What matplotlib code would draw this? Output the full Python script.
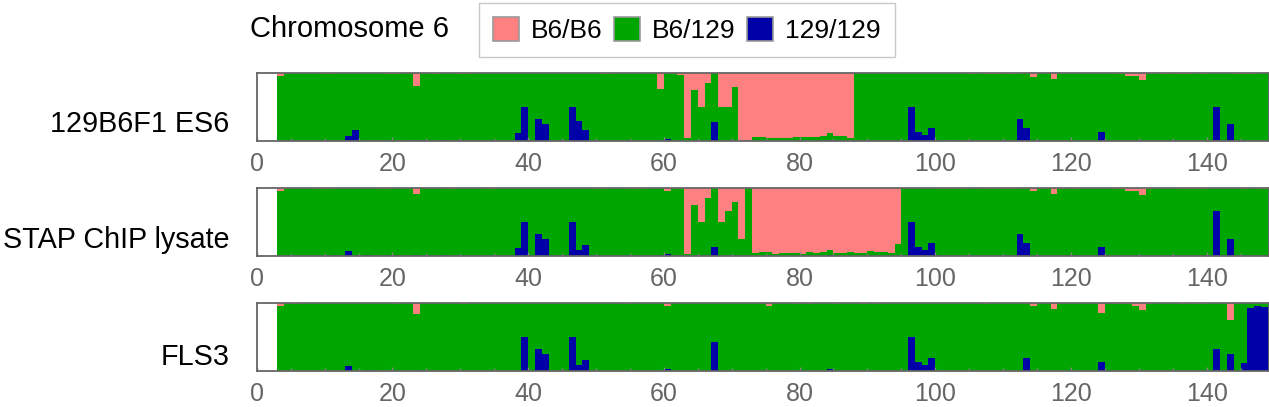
import matplotlib
matplotlib.use("Agg")
import matplotlib.pyplot as plt
from matplotlib.patches import Patch

plt.rcParams['font.family'] = ['Liberation Sans', 'DejaVu Sans']

# 1 Mb bins, bin start positions 3..149 (Mb)
bin_start = list(range(3, 150))

samples = ["129B6F1 ES6", "STAP ChIP lysate", "FLS3"]
genotypes = ["B6/B6", "B6/129", "129/129"]
colors = ["#FF8080", "#00A600", "#0000A8"]

# fraction B6/B6 (top of each bar), rows: 3-9, 10-19, ..., 140-149
es6_b6b6 = [
    0.04, 0, 0, 0, 0, 0, 0,
    0.015, 0, 0, 0, 0, 0, 0, 0, 0, 0.015,
    0.015, 0, 0, 0.19, 0, 0, 0.015, 0, 0, 0,
    0.015, 0, 0, 0, 0, 0, 0, 0, 0, 0,
    0, 0, 0, 0, 0, 0, 0, 0, 0, 0,
    0, 0.015, 0, 0, 0, 0, 0, 0, 0, 0.23,
    0, 0, 0.02, 0.95, 0.25, 0.50, 0.14, 0, 0.50, 0.50,
    0.20, 1.0, 1.0, 0.935, 0.935, 0.95, 0.95, 0.95, 0.95, 0.935,
    0.935, 0.935, 0.935, 0.92, 0.88, 0.92, 0.92, 0.95, 0, 0,
    0, 0, 0, 0, 0, 0, 0, 0, 0, 0,
    0, 0, 0, 0, 0, 0.015, 0, 0.015, 0.015, 0.015,
    0, 0.015, 0, 0, 0.05, 0, 0, 0.08, 0, 0,
    0, 0, 0, 0, 0, 0, 0, 0.015, 0.04, 0.04,
    0.10, 0.015, 0, 0.015, 0, 0.015, 0.015, 0.015, 0, 0.015,
    0, 0, 0, 0, 0.015, 0.015, 0.015, 0, 0, 0,
]
# fraction 129/129 (bottom of each bar)
es6_129 = [
    0, 0, 0, 0, 0, 0, 0,
    0, 0, 0, 0.07, 0.16, 0, 0, 0, 0, 0,
    0, 0, 0, 0.015, 0, 0, 0, 0.015, 0, 0,
    0, 0, 0, 0, 0, 0, 0, 0, 0.12, 0.50,
    0, 0.325, 0.25, 0, 0, 0, 0.50, 0.30, 0.16, 0,
    0, 0, 0, 0, 0, 0, 0, 0, 0, 0,
    0.03, 0, 0, 0, 0, 0, 0, 0.28, 0, 0,
    0, 0, 0, 0, 0, 0, 0, 0, 0, 0,
    0, 0, 0, 0, 0.01, 0, 0, 0, 0, 0,
    0, 0, 0, 0, 0, 0, 0.50, 0.13, 0.09, 0.19,
    0, 0, 0.015, 0, 0, 0, 0, 0, 0, 0,
    0, 0, 0.325, 0.19, 0, 0, 0, 0, 0, 0,
    0, 0, 0, 0, 0.13, 0, 0, 0, 0, 0,
    0, 0, 0, 0, 0, 0, 0, 0, 0, 0,
    0, 0.50, 0, 0.25, 0, 0, 0, 0, 0, 0,
]

stap_b6b6 = [
    0.04, 0, 0, 0, 0, 0, 0.015,
    0.015, 0, 0, 0, 0, 0, 0, 0, 0.015, 0.015,
    0, 0, 0, 0.08, 0, 0, 0, 0, 0.015, 0,
    0, 0, 0, 0, 0.015, 0, 0, 0, 0, 0,
    0, 0, 0, 0, 0, 0, 0, 0, 0, 0,
    0.015, 0, 0, 0, 0, 0.015, 0.015, 0, 0, 0,
    0.04, 0, 0.015, 0.965, 0.25, 0.50, 0.14, 0, 0.50, 0.335,
    0.20, 0.75, 0, 0.95, 0.935, 0.935, 0.965, 0.95, 0.95, 0.95,
    0.965, 0.935, 0.95, 0.935, 0.91, 0.95, 0.95, 0.935, 0.95, 0.95,
    0.92, 0.935, 0.935, 0.95, 0.82, 0, 0, 0, 0, 0,
    0, 0.015, 0, 0.015, 0, 0, 0, 0.015, 0, 0.015,
    0.015, 0.015, 0, 0, 0.04, 0, 0, 0.08, 0.015, 0,
    0.015, 0, 0, 0, 0, 0, 0.015, 0.015, 0.04, 0.04,
    0.10, 0.015, 0, 0, 0, 0, 0.015, 0.015, 0.015, 0.015,
    0, 0, 0, 0, 0, 0.015, 0, 0, 0.015, 0,
]
stap_129 = [
    0, 0, 0, 0, 0, 0, 0,
    0, 0.015, 0, 0.07, 0, 0, 0.015, 0, 0, 0,
    0, 0, 0, 0.015, 0, 0, 0, 0.015, 0, 0,
    0, 0, 0, 0, 0, 0, 0, 0, 0.12, 0.50,
    0, 0.325, 0.25, 0, 0, 0, 0.50, 0.09, 0.16, 0,
    0, 0, 0, 0, 0, 0, 0, 0, 0, 0,
    0.03, 0, 0, 0, 0, 0, 0, 0.13, 0, 0,
    0, 0, 0, 0, 0, 0, 0, 0, 0, 0,
    0, 0, 0, 0, 0.01, 0, 0, 0, 0, 0,
    0, 0, 0, 0, 0, 0, 0.50, 0.13, 0.09, 0.19,
    0, 0, 0, 0, 0, 0, 0, 0, 0, 0,
    0, 0, 0.325, 0.19, 0, 0, 0, 0, 0, 0,
    0, 0, 0, 0, 0.13, 0, 0, 0, 0, 0,
    0, 0, 0, 0, 0, 0, 0, 0, 0, 0,
    0, 0.665, 0, 0.25, 0, 0, 0, 0, 0, 0,
]

fls3_b6b6 = [
    0.04, 0, 0.015, 0, 0, 0, 0,
    0, 0, 0, 0, 0, 0, 0, 0, 0, 0,
    0.015, 0, 0, 0.16, 0, 0, 0, 0, 0, 0,
    0.015, 0, 0, 0, 0, 0, 0, 0, 0, 0,
    0, 0, 0, 0, 0, 0, 0, 0, 0, 0,
    0, 0, 0, 0, 0.015, 0, 0, 0, 0, 0,
    0.04, 0, 0, 0, 0, 0, 0, 0, 0, 0,
    0, 0, 0, 0, 0, 0.04, 0, 0, 0, 0.015,
    0, 0.015, 0, 0, 0, 0.015, 0, 0, 0, 0.015,
    0, 0.015, 0, 0, 0, 0, 0, 0, 0, 0,
    0, 0, 0, 0, 0, 0, 0, 0.015, 0, 0,
    0, 0, 0, 0, 0.04, 0, 0, 0.08, 0, 0,
    0, 0, 0, 0, 0.14, 0, 0.015, 0.015, 0.015, 0.04,
    0.10, 0.015, 0, 0, 0, 0, 0.015, 0, 0.015, 0.015,
    0, 0, 0, 0.25, 0, 0, 0, 0, 0, 0,
]
fls3_129 = [
    0, 0, 0, 0, 0, 0, 0,
    0, 0, 0, 0.07, 0, 0, 0.015, 0, 0, 0,
    0, 0, 0, 0.015, 0, 0, 0, 0, 0, 0,
    0, 0, 0, 0, 0, 0, 0, 0, 0, 0.50,
    0, 0.325, 0.25, 0, 0, 0, 0.50, 0.09, 0.16, 0,
    0, 0, 0, 0, 0, 0, 0, 0, 0, 0,
    0.03, 0, 0, 0, 0, 0, 0, 0.43, 0, 0,
    0, 0, 0, 0, 0, 0, 0, 0, 0, 0,
    0, 0, 0, 0, 0.03, 0, 0, 0, 0, 0,
    0, 0, 0, 0, 0, 0, 0.50, 0.13, 0.09, 0.19,
    0, 0, 0, 0, 0, 0, 0, 0, 0, 0,
    0, 0, 0, 0.19, 0, 0, 0, 0, 0, 0,
    0, 0, 0, 0, 0.13, 0, 0, 0, 0, 0,
    0, 0, 0, 0, 0, 0, 0, 0, 0, 0,
    0, 0.325, 0, 0.25, 0, 0.12, 0.93, 0.96, 0.945, 0.945,
]

panels = [(es6_b6b6, es6_129), (stap_b6b6, stap_129), (fls3_b6b6, fls3_129)]

W, H = 1269, 407
fig = plt.figure(figsize=(W / 100, H / 100), dpi=100)

ax_left = 256.8 / W
ax_width = 1 - ax_left
ax_height = 67.7 / H
tops_px = [73.3, 188.3, 303.3]
label_y = [0.25, 0.235, 0.21]

for k, (b6b6, b129) in enumerate(panels):
    bottom = 1 - (tops_px[k] + 67.7) / H
    ax = fig.add_axes([ax_left, bottom, ax_width, ax_height])
    # B6/129 is what is left of each bin
    het = [1 - p - b for p, b in zip(b6b6, b129)]
    ax.bar(bin_start, b129, width=1, align='edge', color=colors[2], linewidth=0)
    ax.bar(bin_start, het, width=1, align='edge', bottom=b129, color=colors[1], linewidth=0)
    ax.bar(bin_start, b6b6, width=1, align='edge',
           bottom=[b + h for b, h in zip(b129, het)], color=colors[0], linewidth=0)

    ax.set_xlim(0, 149.2)
    ax.set_ylim(0, 1)
    ax.set_yticks([])
    ax.set_xticks(range(0, 141, 20))
    ax.set_xticks(range(5, 150, 5), minor=True)
    ax.tick_params(axis='x', which='major', direction='in', length=3.2, width=1,
                   color='#888888', labelsize=18, labelcolor='#666666', pad=8)
    ax.tick_params(axis='x', which='minor', direction='in', length=2, width=1,
                   color='#888888')
    for sp in ax.spines.values():
        sp.set_color('#666666')
        sp.set_linewidth(1.3)
    ax.text(-0.027, label_y[k], samples[k], transform=ax.transAxes, ha='right',
            va='center', fontsize=20.7, color='black')

fig.text(250 / W, 1 - 29 / H, "Chromosome 6", ha='left', va='center', fontsize=21)

handles = [Patch(facecolor=c, edgecolor='#999999', linewidth=1.2, label=g)
           for c, g in zip(colors, genotypes)]
leg = fig.legend(handles=handles, loc='center', bbox_to_anchor=(687 / W, 1 - 30 / H),
                 ncol=3, fontsize=19, frameon=True, fancybox=False,
                 handlelength=1.0, handleheight=1.0, handletextpad=0.45,
                 columnspacing=0.42, borderpad=0.55, borderaxespad=0)
leg.get_frame().set_edgecolor('#bbbbbb')
leg.get_frame().set_linewidth(1.0)

fig.savefig("out.png", dpi=100)
